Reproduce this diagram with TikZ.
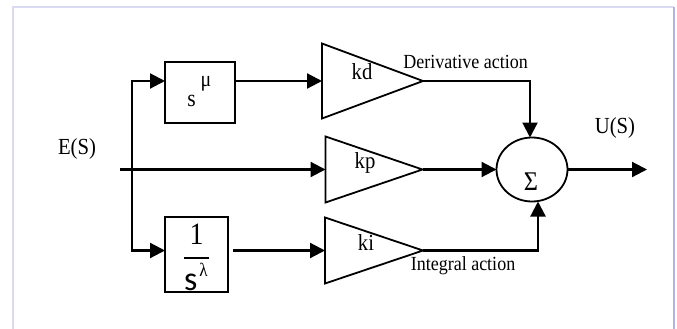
\documentclass[tikz,border=0pt]{standalone}
\usepackage{fontspec}
\setmainfont{Liberation Serif}[FakeStretch=0.9]
\newfontfamily\calfont{Carlito}
\usetikzlibrary{arrows.meta,shapes.geometric}
\begin{document}
\begin{tikzpicture}[x=1pt,y=-1pt,
  wire/.style={line width=2.2pt},
  arr/.style={wire,-{Triangle[length=15pt,width=15pt]}},
  blockbox/.style={draw,line width=2pt,inner sep=0pt,outer sep=0pt},
  gain/.style={draw,isosceles triangle,isosceles triangle stretches,shape border rotate=0,
    line width=1.8pt,inner sep=0pt,outer sep=0pt,anchor=west},
  txt/.style={inner sep=0pt,anchor=base},
  big/.style={txt,font=\fontsize{23}{26}\selectfont},
  small/.style={txt,font=\fontsize{20}{22}\selectfont},
  framelt/.style={line width=2pt,draw=lavlt},
  framedk/.style={line width=2pt,draw=lavdk}
]
\definecolor{lavlt}{HTML}{DADAF0}
\definecolor{lavdk}{HTML}{B4B4E0}
\useasboundingbox (0,0) rectangle (677,329);
% frame
\draw[framelt] (12.5,329) -- (12.5,7.5) -- (674,7.5);
\draw[framedk] (674,7.5) -- (674,329);

% blocks
\node[blockbox,minimum width=70pt,minimum height=61pt] (smu) at (200,92.5) {};
\node[blockbox,minimum width=63pt,minimum height=75pt] (inv) at (196.5,254.5) {};
\node[gain,minimum height=101pt,minimum width=75pt] (kd) at (322,81) {};
\node[gain,minimum height=97pt,minimum width=66pt] (kp) at (325.5,169.5) {};
\node[gain,minimum height=98pt,minimum width=66pt] (ki) at (325,250.5) {};
\node[draw,ellipse,line width=1.8pt,inner sep=0pt,outer sep=0pt,minimum width=71pt,minimum height=64pt] (sum) at (532,169.5) {};

% texts
\node[txt,font=\fontsize{24}{26}\selectfont] (s1) at (191.7,106.5) {s};
\node[txt,font=\fontsize{22}{24}\selectfont] (mu) at (206,86.5) {μ};
\node[txt,font=\fontsize{31}{33}\selectfont] (one) at (196.7,244.5) {1};
\draw[line width=1.8pt] (184.3,258.3) -- (209,258.3);
\node[txt,font=\calfont\fontsize{34}{36}\selectfont] (s2) at (190.7,290) {s};
\node[txt,font=\fontsize{19}{21}\selectfont] (lam) at (203.5,276) {λ};
\node[big] (es) at (77,154) {E(S)};
\node[big] (us) at (615,133.3) {U(S)};
\node[big] (kdl) at (362,79.3) {kd};
\node[big] (kpl) at (365,168.3) {kp};
\node[big] (kil) at (366,250) {ki};
\node[txt,font=\fontsize{27}{29}\selectfont] (sig) at (531,190.7) {Σ};
\node[small] (der) at (465.7,69) {Derivative action};
\node[small] (int) at (463,270.7) {Integral action};

% connectors
\coordinate (in) at (120,169.5);
\coordinate (br) at (132,169.5);
\coordinate (out) at (647,169.5);
\draw[arr] (in) -- (kp.west);
\draw[arr] (br) |- (smu.west |- kd.west);
\draw[arr] (br) |- (inv.west |- ki.west);
\draw[arr] (smu.east |- kd.west) -- (kd.west);
\draw[arr] ([xshift=5pt]inv.east |- ki.west) -- (ki.west);
\draw[arr] (kd.apex) -| ([xshift=-2pt]sum.north);
\draw[arr] (ki.apex) -| ([xshift=6pt]sum.south);
\draw[arr] (kp.apex) -- (sum.west);
\draw[arr] (sum.east) -- (out);
\end{tikzpicture}
\end{document}
